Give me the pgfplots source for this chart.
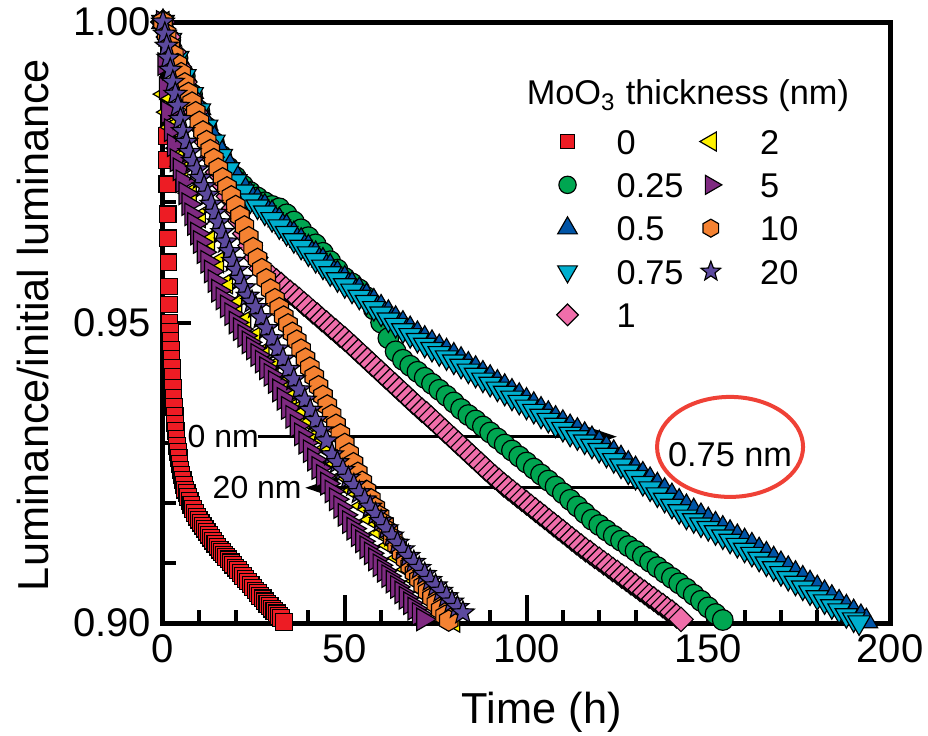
\documentclass[border=0pt]{standalone}
\usepackage{pgfplots}
\pgfplotsset{compat=1.18}
\usepackage{fontspec}
\setmainfont{Liberation Sans}
\usetikzlibrary{arrows.meta}

\definecolor{cRed}{HTML}{ED1C24}
\definecolor{cGreen}{HTML}{00A651}
\definecolor{cBlue}{HTML}{0054A6}
\definecolor{cCyan}{HTML}{00AFCF}
\definecolor{cPink}{HTML}{F06EAA}
\definecolor{cYellow}{HTML}{FFF200}
\definecolor{cPurple}{HTML}{7F2A81}
\definecolor{cOrange}{HTML}{F58232}
\definecolor{cStar}{HTML}{5C4A9E}
\definecolor{cEll}{HTML}{EF4136}

% hexagon mark, pointy top
\pgfdeclareplotmark{hexagon*}{%
  \pgfpathmoveto{\pgfqpointpolar{90}{\pgfplotmarksize}}%
  \pgfpathlineto{\pgfqpointpolar{150}{\pgfplotmarksize}}%
  \pgfpathlineto{\pgfqpointpolar{210}{\pgfplotmarksize}}%
  \pgfpathlineto{\pgfqpointpolar{270}{\pgfplotmarksize}}%
  \pgfpathlineto{\pgfqpointpolar{330}{\pgfplotmarksize}}%
  \pgfpathlineto{\pgfqpointpolar{30}{\pgfplotmarksize}}%
  \pgfpathclose
  \pgfusepathqfillstroke}
% filled five point star
\pgfdeclareplotmark{fstar}{%
  \pgfpathmoveto{\pgfpointpolar{90}{\pgfplotmarksize}}%
  \pgfpathlineto{\pgfpointpolar{126}{0.42\pgfplotmarksize}}%
  \pgfpathlineto{\pgfpointpolar{162}{\pgfplotmarksize}}%
  \pgfpathlineto{\pgfpointpolar{198}{0.42\pgfplotmarksize}}%
  \pgfpathlineto{\pgfpointpolar{234}{\pgfplotmarksize}}%
  \pgfpathlineto{\pgfpointpolar{270}{0.42\pgfplotmarksize}}%
  \pgfpathlineto{\pgfpointpolar{306}{\pgfplotmarksize}}%
  \pgfpathlineto{\pgfpointpolar{342}{0.42\pgfplotmarksize}}%
  \pgfpathlineto{\pgfpointpolar{18}{\pgfplotmarksize}}%
  \pgfpathlineto{\pgfpointpolar{54}{0.42\pgfplotmarksize}}%
  \pgfpathclose
  \pgfusepathqfillstroke}

\pgfplotsset{
  sA/.style={only marks, mark=square*, mark size=2.5pt, mark options={draw=black, line width=0.35pt, fill=cRed}},
  sB/.style={only marks, mark=*, mark size=3.1pt, mark options={draw=black, line width=0.35pt, fill=cGreen}},
  sC/.style={only marks, mark=triangle*, mark size=3.9pt, mark options={draw=black, line width=0.35pt, fill=cBlue}},
  sD/.style={only marks, mark=triangle*, mark size=3.9pt, mark options={draw=black, line width=0.35pt, fill=cCyan, rotate=180}},
  sE/.style={only marks, mark=square*, mark size=2.6pt, mark options={draw=black, line width=0.35pt, fill=cPink, rotate=45}},
  sF/.style={only marks, mark=triangle*, mark size=3.6pt, mark options={draw=black, line width=0.35pt, fill=cYellow, rotate=90}},
  sG/.style={only marks, mark=triangle*, mark size=3.9pt, mark options={draw=black, line width=0.35pt, fill=cPurple, rotate=-90}},
  sH/.style={only marks, mark=hexagon*, mark size=3.2pt, mark options={draw=black, line width=0.35pt, fill=cOrange}},
  sI/.style={only marks, mark=fstar, mark size=3.6pt, mark options={draw=black, line width=0.35pt, fill=cStar}},
}

\begin{document}
\begin{tikzpicture}
\begin{axis}[
  width=218.1pt, height=180.3pt, scale only axis,
  xmin=0, xmax=200, ymin=0.9, ymax=1,
  xtick={0,50,100,150,200}, ytick={0.9,0.95,1},
  minor x tick num=4, minor y tick num=4,
  tick pos=left, tick align=inside,
  major tick length=8.4pt, minor tick length=4pt,
  every tick/.style={black, line width=1.2pt},
  axis line style={line width=1.5pt},
  /pgf/number format/assume math mode=true,
  ticklabel style={font=\fontsize{12}{14}\selectfont},
  yticklabel style={/pgf/number format/fixed, /pgf/number format/fixed zerofill, /pgf/number format/precision=2},
  xlabel={Time (h)}, ylabel={Luminance/initial luminance},
  label style={font=\fontsize{13}{15}\selectfont},
  xlabel style={at={(axis description cs:0.521,-0.148)}, anchor=center},
  ylabel style={at={(axis description cs:-0.179,0.496)}, anchor=center},
  legend columns=2, legend cell align=left,
  legend style={at={(0.5406,0.8286)}, anchor=north west, draw=none, fill=none,
    inner sep=0pt, font=\fontsize{10.3}{12}\selectfont, row sep=3.5pt,
    nodes={inner sep=1pt, text height=7.5pt, text depth=0pt},
    /tikz/every odd column/.append style={column sep=10.5pt},
    /tikz/every even column/.append style={column sep=3.9pt}},
]

% 0 nm
\addplot[sA, forget plot] table {
1.0 0.981
1.1 0.977
1.2 0.973
1.3 0.968
1.4 0.964
1.5 0.960
1.6 0.956
1.7 0.953
1.8 0.950
1.9 0.9485
2.0 0.947
2.15 0.9455
2.3 0.944
2.45 0.9425
2.6 0.941
2.75 0.9392
2.9 0.9375
3.05 0.936
3.2 0.9345
3.35 0.9332
3.5 0.932
3.7 0.9307
3.9 0.9295
4.1 0.9285
4.3 0.9275
4.55 0.9265
4.8 0.9255
5.1 0.9246
5.4 0.9238
5.75 0.923
6.1 0.9222
6.5 0.9216
6.9 0.921
7.35 0.9203
7.8 0.9196
8.3 0.919
8.8 0.9183
9.3 0.9177
9.8 0.9172
10.35 0.9167
10.9 0.9162
11.45 0.9157
12.0 0.9152
12.6 0.9147
13.2 0.9142
13.8 0.9137
14.4 0.9132
15.0 0.9127
15.6 0.9122
16.2 0.9118
16.8 0.9114
17.4 0.911
18.0 0.9106
18.65 0.9101
19.3 0.9097
19.95 0.9092
20.6 0.9088
21.3 0.9083
22.0 0.9078
22.7 0.9073
23.4 0.9069
24.1 0.9064
24.8 0.9059
25.45 0.9054
26.1 0.9050
26.75 0.9045
27.4 0.9041
28.05 0.9036
28.7 0.9032
29.35 0.9028
30.0 0.9024
30.65 0.902
31.3 0.9016
31.9 0.9012
32.5 0.9008
33.3 0.9002
};

% 0.25 nm
\addplot[sB, forget plot] table {
0 1.000
2 0.997
4 0.994
6 0.991
8 0.988
10 0.9852
12 0.9825
14 0.980
16 0.9778
18 0.9758
20 0.9742
22 0.9728
24 0.9717
26 0.9708
28 0.970
30 0.9694
32 0.969
34 0.968
36 0.9668
38 0.9655
40 0.9642
42 0.963
44 0.9616
46 0.9602
48 0.9588
50 0.9574
52 0.9565
54 0.9555
56 0.9542
58 0.9522
60 0.950
62 0.9474
64 0.9452
66 0.9438
68 0.9428
70 0.9418
72 0.9408
74 0.9398
76 0.9388
78 0.9378
80 0.9367
82 0.9356
84 0.9346
86 0.9337
88 0.9327
90 0.9317
92 0.9307
94 0.9297
96 0.9287
98 0.9277
100 0.9267
102 0.9257
104 0.9247
106 0.9237
108 0.9227
110 0.9216
112 0.9205
114 0.9194
116 0.9183
118 0.9172
120 0.9163
122 0.9154
124 0.9145
126 0.9137
128 0.9128
130 0.912
132 0.9111
134 0.9102
136 0.9093
138 0.9084
140 0.9075
142 0.9066
144 0.9057
146 0.9047
148 0.9037
150 0.9026
152 0.9015
154 0.9005
};

% 0.5 nm
\addplot[sC, forget plot] table {
0 1.0000
2 0.9971
4 0.9942
6 0.9913
8 0.9884
10 0.9857
12 0.9831
14 0.9807
16 0.9784
18 0.9764
20 0.9745
22 0.9728
24 0.9713
26 0.9703
28 0.9693
30 0.9682
32 0.9670
34 0.9659
36 0.9647
38 0.9636
40 0.9625
42 0.9614
44 0.9603
46 0.9593
48 0.9582
50 0.9573
52 0.9563
54 0.9554
56 0.9544
58 0.9535
60 0.9525
62 0.9516
64 0.9506
66 0.9498
68 0.9489
70 0.9481
72 0.9473
74 0.9466
76 0.9459
78 0.9452
80 0.9445
82 0.9438
84 0.9430
86 0.9423
88 0.9415
90 0.9408
92 0.9400
94 0.9393
96 0.9385
98 0.9378
100 0.9370
102 0.9363
104 0.9355
106 0.9348
108 0.9340
110 0.9333
112 0.9326
114 0.9320
116 0.9313
118 0.9306
120 0.9299
122 0.9291
124 0.9283
126 0.9274
128 0.9265
130 0.9256
132 0.9247
134 0.9238
136 0.9229
138 0.9220
140 0.9211
142 0.9202
144 0.9193
146 0.9186
148 0.9178
150 0.9171
152 0.9164
154 0.9157
156 0.9150
158 0.9143
160 0.9136
162 0.9129
164 0.9121
166 0.9114
168 0.9106
170 0.9098
172 0.9090
174 0.9082
176 0.9074
178 0.9066
180 0.9058
182 0.9050
184 0.9042
186 0.9034
188 0.9026
190 0.9018
192 0.9010
193.5 0.9003
};

% 0.75 nm
\addplot[sD, forget plot] table {
0 1.0000
2 0.9970
4 0.9940
6 0.9910
8 0.9880
10 0.9853
12 0.9826
14 0.9801
16 0.9777
18 0.9755
20 0.9735
22 0.9718
24 0.9703
26 0.9693
28 0.9683
30 0.9672
32 0.9660
34 0.9649
36 0.9637
38 0.9626
40 0.9615
42 0.9604
44 0.9593
46 0.9582
48 0.9572
50 0.9562
52 0.9553
54 0.9543
56 0.9534
58 0.9524
60 0.9515
62 0.9505
64 0.9496
66 0.9487
68 0.9479
70 0.9471
72 0.9463
74 0.9456
76 0.9449
78 0.9442
80 0.9435
82 0.9428
84 0.9420
86 0.9413
88 0.9405
90 0.9398
92 0.9390
94 0.9383
96 0.9375
98 0.9368
100 0.9360
102 0.9353
104 0.9345
106 0.9338
108 0.9330
110 0.9323
112 0.9315
114 0.9309
116 0.9302
118 0.9295
120 0.9288
122 0.9280
124 0.9271
126 0.9262
128 0.9252
130 0.9243
132 0.9233
134 0.9224
136 0.9214
138 0.9205
140 0.9195
142 0.9186
144 0.9177
146 0.9171
148 0.9164
150 0.9158
152 0.9151
154 0.9144
156 0.9137
158 0.9130
160 0.9122
162 0.9115
164 0.9107
166 0.9099
168 0.9091
170 0.9083
172 0.9075
174 0.9067
176 0.9059
178 0.9051
180 0.9043
182 0.9036
184 0.9028
186 0.9021
188 0.9013
190 0.9006
191.5 0.9001
};

% 1 nm
\addplot[sE, forget plot] table {
0.0 1.000
1.5 0.9975
3.0 0.995
4.5 0.9925
6.0 0.990
7.5 0.9875
9.0 0.985
10.5 0.9825
12.0 0.980
13.5 0.9775
15.0 0.975
16.5 0.973
18.0 0.971
19.5 0.969
21.0 0.967
22.5 0.9648
24.0 0.9628
25.5 0.9608
27.0 0.959
28.5 0.9582
30.0 0.9575
31.25 0.9569
32.5 0.9563
33.75 0.9556
35.0 0.955
36.25 0.9544
37.5 0.9538
38.75 0.9531
40.0 0.9525
41.25 0.9518
42.5 0.9512
43.75 0.9505
45.0 0.9499
46.25 0.9492
47.5 0.9486
48.75 0.9479
50.0 0.9473
51.25 0.9466
52.5 0.9459
53.75 0.9452
55.0 0.9445
56.25 0.9438
57.5 0.9431
58.75 0.9424
60.0 0.9417
61.25 0.9410
62.5 0.9403
63.75 0.9396
65.0 0.9389
66.25 0.9382
67.5 0.9375
68.75 0.9368
70.0 0.9361
71.25 0.9354
72.5 0.9348
73.75 0.9341
75.0 0.9334
76.25 0.9327
77.5 0.9320
78.75 0.9313
80.0 0.9306
81.25 0.9299
82.5 0.9292
83.75 0.9285
85.0 0.9278
86.25 0.9271
87.5 0.9264
88.75 0.9257
90.0 0.9250
91.25 0.9243
92.5 0.9237
93.75 0.9230
95.0 0.9224
96.25 0.9218
97.5 0.9212
98.75 0.9206
100.0 0.9200
101.25 0.9194
102.5 0.9188
103.75 0.9182
105.0 0.9176
106.25 0.9170
107.5 0.9164
108.75 0.9158
110.0 0.9152
111.25 0.9146
112.5 0.9140
113.75 0.9134
115.0 0.9128
116.25 0.9122
117.5 0.9117
118.75 0.9111
120.0 0.9106
121.25 0.9100
122.5 0.9095
123.75 0.9089
125.0 0.9084
126.25 0.9078
127.5 0.9073
128.75 0.9067
130.0 0.9062
131.25 0.9056
132.5 0.9051
133.75 0.9045
135.0 0.9040
136.25 0.9034
137.5 0.9029
138.75 0.9023
140.0 0.9018
141.25 0.9012
142.5 0.9006
};

% 2 nm
\addplot[sF, forget plot] table {
0.0 1.000
0.6 0.988
1.5 0.985
2.5 0.9825
4.0 0.979
5.2 0.976
7.5 0.9715
10.0 0.9675
12.5 0.9637
15.0 0.960
17.5 0.9565
20.0 0.953
22.5 0.9502
25.0 0.9475
27.5 0.945
30.0 0.9425
32.5 0.9402
35.0 0.938
37.5 0.9357
40.0 0.9335
42.5 0.9312
45.0 0.929
47.5 0.9267
50.0 0.9245
52.5 0.922
55.0 0.9195
57.5 0.9172
60.0 0.915
62.5 0.9129
65.0 0.9108
67.5 0.9089
70.0 0.907
72.5 0.9052
75.0 0.9035
77.5 0.9018
80.0 0.9002
};

% 5 nm
\addplot[sG, forget plot] table {
0.0 1.000
0.4 0.993
0.8 0.989
1.4 0.985
2.2 0.982
3.0 0.9795
3.8 0.977
4.6 0.9755
5.4 0.9735
6.2 0.9715
7.0 0.9697
7.8 0.968
8.6 0.9664
9.4 0.9648
10.2 0.9634
11.2 0.9617
12.2 0.9601
13.2 0.9585
14.2 0.9569
15.2 0.9553
16.4 0.954
17.6 0.9527
18.8 0.9514
20.0 0.950
21.2 0.9489
22.4 0.9478
23.6 0.9467
24.8 0.9457
26.0 0.9446
27.2 0.9435
28.4 0.9424
29.6 0.9413
30.8 0.9401
32.0 0.9387
33.2 0.9373
34.4 0.9358
35.6 0.9343
36.8 0.9328
38.0 0.9314
39.2 0.930
40.4 0.9286
41.6 0.9272
42.8 0.9258
44.0 0.9245
45.2 0.9232
46.4 0.9219
47.6 0.9206
48.8 0.9193
50.0 0.918
51.2 0.9168
52.4 0.9157
53.6 0.9146
54.8 0.9136
56.0 0.9126
57.2 0.9116
58.4 0.9106
59.6 0.9096
60.8 0.9087
62.0 0.9078
63.2 0.9069
64.4 0.906
65.6 0.9051
66.8 0.9042
68.0 0.9033
69.2 0.9024
70.4 0.9015
71.6 0.9006
};

% 10 nm
\addplot[sH, forget plot] table {
0.0 1.000
1.0 0.998
2.0 0.996
3.0 0.9945
4.0 0.993
5.0 0.9915
6.0 0.9898
7.0 0.9882
8.0 0.9866
9.0 0.985
10.0 0.9834
11.0 0.9818
12.0 0.9802
13.0 0.9787
14.0 0.9772
15.2 0.9756
16.4 0.974
17.6 0.9725
18.8 0.971
20.0 0.9694
21.2 0.9677
22.4 0.966
23.6 0.9642
24.8 0.9624
26.0 0.9606
27.2 0.9589
28.4 0.9572
29.6 0.9555
30.8 0.9539
32.0 0.9524
33.2 0.951
34.4 0.9497
35.6 0.9483
36.8 0.947
38.0 0.9455
39.2 0.944
40.4 0.9425
41.6 0.941
42.8 0.9394
44.0 0.9378
45.2 0.9362
46.4 0.9346
47.6 0.933
48.8 0.9314
50.0 0.9298
51.2 0.9282
52.4 0.9266
53.6 0.925
54.8 0.9235
56.0 0.922
57.2 0.9206
58.4 0.9192
59.6 0.9178
60.8 0.9165
62.0 0.9153
63.2 0.9141
64.4 0.9129
65.6 0.9117
66.8 0.9106
68.0 0.9095
69.2 0.9084
70.4 0.9073
71.6 0.9062
72.8 0.9052
74.0 0.9042
75.2 0.9032
76.4 0.9022
77.6 0.9012
78.6 0.9004
};

% 20 nm
\addplot[sI, forget plot] table {
0.0 1.000
0.5 0.998
1.0 0.996
1.5 0.994
2.0 0.992
2.7 0.990
3.4 0.988
4.1 0.986
4.8 0.9838
5.5 0.9818
6.4 0.980
7.3 0.9783
8.3 0.9768
9.3 0.9754
10.3 0.974
11.3 0.9726
12.3 0.9712
13.3 0.9697
14.3 0.9682
15.3 0.9666
16.3 0.965
17.3 0.9634
18.3 0.9618
19.3 0.9602
20.3 0.9587
21.3 0.9572
22.3 0.9558
23.3 0.9544
24.5 0.9534
25.5 0.9525
27.0 0.9508
28.5 0.949
30.0 0.9473
31.5 0.9456
33.0 0.9439
34.5 0.9422
36.0 0.9405
37.5 0.9388
39.0 0.9371
40.5 0.9354
42.0 0.9337
43.5 0.932
45.0 0.9303
46.5 0.928
48.0 0.9267
49.5 0.9254
51.0 0.9241
52.5 0.9229
54.0 0.9217
55.5 0.9205
57.0 0.9193
58.5 0.9181
60.0 0.9169
61.5 0.9157
63.0 0.9145
64.5 0.9133
66.0 0.9122
67.5 0.9111
69.0 0.9101
70.5 0.9091
72.0 0.9081
73.5 0.9071
75.0 0.9062
76.5 0.9053
78.0 0.9044
79.5 0.9035
81.0 0.9026
82.5 0.9017
};

% legend, two columns filled row by row
\addlegendimage{sA, mark size=2.2pt}\addlegendentry{0}
\addlegendimage{sF, mark size=3.3pt}\addlegendentry{2}
\addlegendimage{sB, mark size=2.6pt}\addlegendentry{0.25}
\addlegendimage{sG, mark size=3.3pt}\addlegendentry{5}
\addlegendimage{sC, mark size=3.4pt}\addlegendentry{0.5}
\addlegendimage{sH, mark size=2.7pt}\addlegendentry{10}
\addlegendimage{sD, mark size=3.4pt}\addlegendentry{0.75}
\addlegendimage{sI, mark size=3.1pt}\addlegendentry{20}
\addlegendimage{sE, mark size=2.3pt}\addlegendentry{1}

\node[anchor=base, font=\fontsize{10.3}{12}\selectfont] at (axis cs:144.4,0.9862) {MoO\textsubscript{3} thickness (nm)};

\draw[line width=1pt, -{Triangle[length=10pt,width=6.5pt]}] (axis cs:26.1,0.931) -- (axis cs:124.9,0.931);
\draw[line width=1pt, -{Triangle[length=10pt,width=6.5pt]}] (axis cs:140.6,0.9225) -- (axis cs:39.1,0.9225);
\node[anchor=west, inner sep=0pt, font=\fontsize{9.6}{11}\selectfont] at (axis cs:6.6,0.931) {0 nm};
\node[anchor=west, inner sep=0pt, font=\fontsize{9.6}{11}\selectfont] at (axis cs:13.5,0.9225) {20 nm};
\node[inner sep=0pt, font=\fontsize{10.3}{12}\selectfont] at (axis cs:156,0.928) {0.75 nm};
\draw[cEll, line width=1.2pt] (axis cs:156,0.9293) ellipse [x radius=21.9pt, y radius=15pt];
\end{axis}
\pgfresetboundingbox
\path[use as bounding box] ([xshift=-48.9pt,yshift=-33.6pt]current axis.south west) rectangle ([xshift=11.4pt,yshift=6.6pt]current axis.north east);
\end{tikzpicture}
\end{document}
